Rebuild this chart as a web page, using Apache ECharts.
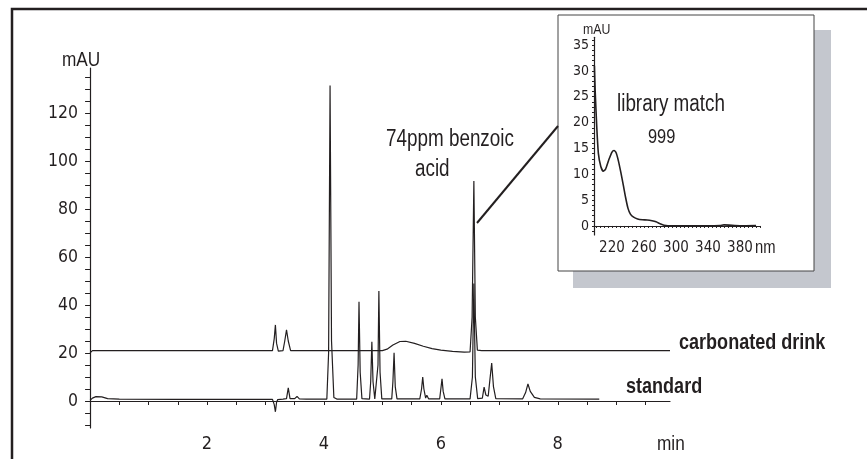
<!DOCTYPE html>
<html>
<head>
<meta charset="utf-8">
<script src="https://cdn.jsdelivr.net/npm/echarts@6/dist/echarts.min.js"></script>
<style>html,body{margin:0;padding:0;background:#fff}#c{width:867px;height:459px}</style>
</head>
<body>
<div id="c"></div>
<script>
// ---- Main chromatogram: standard trace (time in min, absorbance in mAU)
const stdTime = [0.00,0.04,0.10,0.20,0.30,0.50,1.50,3.12,3.15,3.17,3.19,3.21,3.30,3.36,3.39,3.42,3.50,3.54,3.58,3.70,
  4.05,4.08,4.105,4.13,4.17,4.22,4.56,4.585,4.60,4.62,4.65,4.78,4.80,4.82,4.84,4.87,4.90,4.925,4.94,4.96,4.99,
  5.16,5.18,5.20,5.22,5.25,5.64,5.67,5.69,5.71,5.74,5.76,5.79,5.98,6.00,6.02,6.04,6.07,
  6.50,6.54,6.565,6.59,6.63,6.71,6.74,6.77,6.81,6.84,6.87,6.90,6.94,7.40,7.45,7.49,7.53,7.60,7.70,8.71];
const stdMAU = [0.3,1.2,1.8,1.7,1.0,0.8,0.7,0.7,-1.5,-4.5,-0.5,0.6,0.8,1.0,5.5,1.0,1.0,1.9,0.9,0.8,
  0.8,20,131.5,25,1.5,0.8,0.8,15,41.4,12,1.0,0.8,8,24.7,8,0.9,0.9,15,45.8,12,0.9,
  0.9,8,20.1,6,0.9,0.9,5,10,5,1.2,2.4,0.9,0.9,5,9.2,4,0.9,
  0.9,10,49,10,1.0,1.2,5.8,2.5,2.0,9,15.8,6,1.0,0.9,3.5,7.1,4,1.5,0.9,0.8];

// ---- Main chromatogram: carbonated drink trace
const drinkTime = [0.00,0.04,1.50,3.12,3.15,3.17,3.19,3.22,3.30,3.33,3.36,3.39,3.43,5.00,5.08,5.18,5.30,5.40,5.55,5.70,5.85,6.00,6.20,6.40,6.50,6.535,6.565,6.59,6.625,6.70,9.92];
const drinkMAU = [20.1,21.0,21.0,21.0,26,31.7,24,20.8,21.0,25,29.6,25,21.0,21.0,21.6,23.3,24.8,24.9,24.0,22.8,21.8,21.2,20.7,20.4,20.5,35,91.7,35,21.2,21.0,21.0];

// ---- Inset: UV spectrum of the benzoic acid peak
const specNm = [198,199,201,203,206,209,212,216,220,222.5,225,228,231,234,237,240,243,247,252,258,264,270,275,280,285,290,300,320,340,355,360,380,400];
const specMAU = [31,26,19,14,11.5,10.6,11.0,12.8,14.3,14.6,14.2,12.6,10.4,8.0,5.5,3.4,2.3,1.7,1.35,1.2,1.15,1.0,0.8,0.45,0.15,0.05,0.05,0.05,0.05,0.1,0.2,0.05,0.1];

// ---- Tick labels
const mainXLabels = [2,4,6,8];
const mainXTicks = [0.5,1,1.5,2,2.5,3,3.5,4,4.5,5,5.5,6,6.5,7,7.5,8,8.5,9,9.5];
const mainYLabels = [0,20,40,60,80,100,120];
const mainYTicks = [-10,-5,0,5,10,15,20,25,30,35,40,45,50,55,60,65,70,75,80,85,90,95,100,105,110,115,120,125,130,135];
const insetXLabels = [220,260,300,340,380];
const insetXTicks = [200,205,210,215,220,225,230,235,240,245,250,255,260,265,270,275,280,285,290,295,300,305,310,315,320,325,330,335,340,345,350,355,360,365,370,375,380,385,390,395,400,405];
const insetYLabels = [0,5,10,15,20,25,30,35];
const insetYTicks = [-1,0,1,2,3,4,5,6,7,8,9,10,11,12,13,14,15,16,17,18,19,20,21,22,23,24,25,26,27,28,29,30,31,32,33,34,35,36];

const zip = (a, b) => a.map((v, i) => [v, b[i]]);
const AXFONT = '"DejaVu Sans Condensed", "Liberation Sans", sans-serif';
const TXFONT = '"Liberation Sans", Arial, sans-serif';
const INK = '#231f20';

const chart = echarts.init(document.getElementById('c'), null, {renderer: 'canvas'});

// condensed-looking annotation text (regular sans squeezed horizontally)
function txt(text, x, y, size, bold) {
  return {
    type: 'text', x: x, y: y, z: 100, scaleX: 0.82,
    style: {text: text, fill: INK, font: (bold ? 'bold ' : '') + size + 'px ' + TXFONT, textAlign: 'left', textVerticalAlign: 'middle'}
  };
}

const axisBase = {
  axisLine: {show: true, lineStyle: {color: INK, width: 1.2}},
  splitLine: {show: false}
};

chart.setOption({
  animation: false,
  backgroundColor: '#fff',
  grid: [
    {left: 86, top: 68, width: 584, height: 360},
    {left: 594, top: 37.3, width: 166, height: 197.7}
  ],
  xAxis: [
    Object.assign({}, axisBase, {
      type: 'value', gridIndex: 0, min: -0.07, max: 9.92,
      axisTick: {show: true, customValues: mainXTicks, length: 4, lineStyle: {color: INK}},
      axisLabel: {customValues: mainXLabels, fontSize: 18, fontFamily: AXFONT, color: INK, margin: 7}
    }),
    Object.assign({}, axisBase, {
      type: 'value', gridIndex: 1, min: 197.5, max: 405,
      axisTick: {show: true, customValues: insetXTicks, length: 2, lineStyle: {color: INK}},
      axisLabel: {customValues: insetXLabels, fontSize: 15, fontFamily: AXFONT, color: INK, margin: 6}
    })
  ],
  yAxis: [
    Object.assign({}, axisBase, {
      type: 'value', gridIndex: 0, min: -11.25, max: 138.75,
      axisTick: {show: true, customValues: mainYTicks, length: 5, lineStyle: {color: INK}},
      axisLabel: {customValues: mainYLabels, fontSize: 17.5, fontFamily: AXFONT, color: INK, margin: 8}
    }),
    Object.assign({}, axisBase, {
      type: 'value', gridIndex: 1, min: -1.75, max: 36.5,
      axisTick: {show: true, customValues: insetYTicks, length: 2, lineStyle: {color: INK}},
      axisLabel: {customValues: insetYLabels, fontSize: 14, fontFamily: AXFONT, color: INK, margin: 5}
    })
  ],
  series: [
    {type: 'line', xAxisIndex: 0, yAxisIndex: 0, data: zip(stdTime, stdMAU), showSymbol: false,
     lineStyle: {color: INK, width: 1.2}, z: 5},
    {type: 'line', xAxisIndex: 0, yAxisIndex: 0, data: zip(drinkTime, drinkMAU), showSymbol: false,
     lineStyle: {color: INK, width: 1.2}, z: 5},
    {type: 'line', xAxisIndex: 1, yAxisIndex: 1, data: zip(specNm, specMAU), showSymbol: false, smooth: 0.2,
     lineStyle: {color: INK, width: 1.6}, z: 5}
  ],
  graphic: [
    {type: 'rect', z: -20, shape: {x: 12, y: 9, width: 900, height: 500}, style: {fill: '#fff', stroke: INK, lineWidth: 2.5}},
    {type: 'rect', z: -10, shape: {x: 573, y: 30, width: 258, height: 258}, style: {fill: '#c4c7ce'}},
    {type: 'rect', z: -5, shape: {x: 558, y: 15, width: 256, height: 256}, style: {fill: '#fff', stroke: '#444', lineWidth: 1}},
    {type: 'line', z: 50, shape: {x1: 477, y1: 223, x2: 558, y2: 126}, style: {stroke: INK, lineWidth: 2}},
    txt('mAU', 62, 60, 21),
    txt('min', 657, 444, 21),
    txt('74ppm benzoic', 386, 140, 23),
    txt('acid', 415, 170, 23),
    txt('carbonated drink', 679, 343, 22, true),
    txt('standard', 626, 387, 22, true),
    txt('mAU', 583, 30, 15),
    txt('nm', 755, 248, 18),
    txt('library match', 617, 105, 23),
    txt('999', 648, 137, 20)
  ]
});
</script>
</body>
</html>
